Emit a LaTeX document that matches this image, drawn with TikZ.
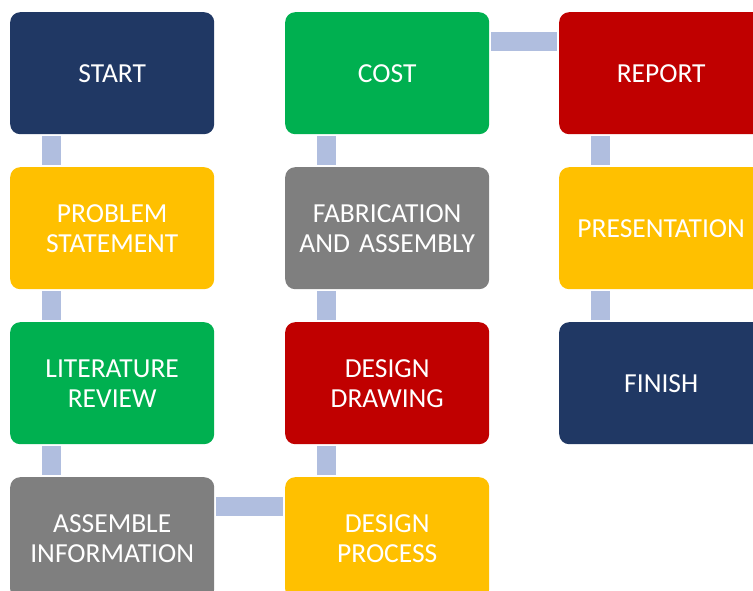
\documentclass[tikz,border=0pt]{standalone}
\usepackage{fontspec}
\setmainfont{Carlito}
\begin{document}
\definecolor{navy}{HTML}{203864}
\definecolor{leaf}{HTML}{00B050}
\definecolor{crimson}{HTML}{C00000}
\definecolor{amber}{HTML}{FFC000}
\definecolor{slate}{HTML}{7F7F7F}
\definecolor{linkblue}{HTML}{B0BEDF}
\begin{tikzpicture}[x=1pt,y=-1pt,
  stage/.style={fill=#1, rounded corners=10pt, minimum width=204pt,
    minimum height=122pt, inner sep=2pt, anchor=north west,
    text=white, align=center, text width=198pt,
    font=\fontsize{27.5}{30}\selectfont},
  link/.style={draw=linkblue, line width=19pt, shorten <=2pt, shorten >=2pt}]
\useasboundingbox (0,0) rectangle (753,591);
\clip (0,0) rectangle (753,591);
% first column
\node[stage=navy]    (start)   at (10,12)  {START};
\node[stage=amber]   (problem) at (10,167) {PROBLEM\\STATEMENT};
\node[stage=leaf]    (lit)     at (10,322) {LITERATURE\\REVIEW};
\node[stage=slate]   (info)    at (10,477) {ASSEMBLE\\INFORMATION};
% second column
\node[stage=leaf]    (cost)    at (285,12)  {COST};
\node[stage=slate]   (fab)     at (285,167) {FABRICATION\\AND ASSEMBLY};
\node[stage=crimson] (drawing) at (285,322) {DESIGN\\DRAWING};
\node[stage=amber]   (process) at (285,477) {DESIGN\\PROCESS};
% third column
\node[stage=crimson] (report)  at (559,12)  {REPORT};
\node[stage=amber]   (present) at (559,167) {PRESENTATION};
\node[stage=navy]    (finish)  at (559,322) {FINISH};
% connectors
\draw[link] ([xshift=41.5pt]start.south west)   -- ([xshift=41.5pt]problem.north west);
\draw[link] ([xshift=41.5pt]problem.south west) -- ([xshift=41.5pt]lit.north west);
\draw[link] ([xshift=41.5pt]lit.south west)     -- ([xshift=41.5pt]info.north west);
\draw[link] ([yshift=-29.5pt]info.north east)   -- ([yshift=-29.5pt]process.north west);
\draw[link] ([xshift=41pt]process.north west)   -- ([xshift=41pt]drawing.south west);
\draw[link] ([xshift=41pt]drawing.north west)   -- ([xshift=41pt]fab.south west);
\draw[link] ([xshift=41pt]fab.north west)       -- ([xshift=41pt]cost.south west);
\draw[link] ([yshift=-29.5pt]cost.north east)   -- ([yshift=-29.5pt]report.north west);
\draw[link] ([xshift=41.5pt]report.south west)  -- ([xshift=41.5pt]present.north west);
\draw[link] ([xshift=41.5pt]present.south west) -- ([xshift=41.5pt]finish.north west);
\end{tikzpicture}
\end{document}
